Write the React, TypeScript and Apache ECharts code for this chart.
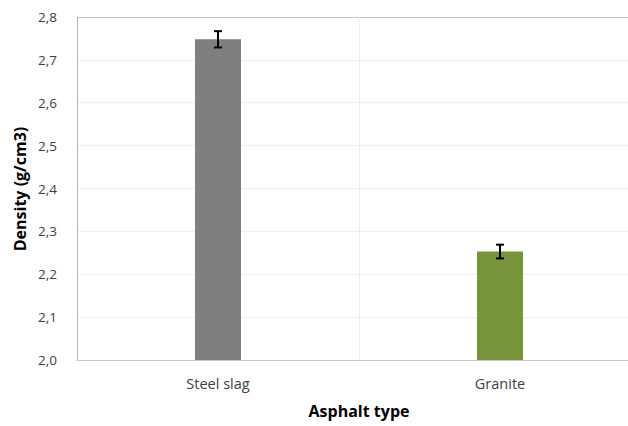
import React, { useEffect, useRef } from "react";
import * as echarts from "echarts";

const categories = ["Steel slag", "Granite"];
const densities = [2.748, 2.253];
const errors = [0.019, 0.016];
const barColors = ["#7f7f7f", "#77933c"];
const yTicks = [2.0, 2.1, 2.2, 2.3, 2.4, 2.5, 2.6, 2.7, 2.8];

const FONT = "'Open Sans', 'Noto Sans', sans-serif";

export default function App() {
  const ref = useRef<HTMLDivElement>(null);
  useEffect(() => {
    if (!ref.current) return;
    const chart = echarts.init(ref.current, undefined, { renderer: "svg" });
    const gridColors = yTicks.map((_, i) => (i === yTicks.length - 1 ? "#c4c4c4" : "#efefef"));
    chart.setOption({
      animation: false,
      backgroundColor: "#ffffff",
      grid: { left: 77, right: 19, top: 17, bottom: 66, containLabel: false },
      xAxis: {
        type: "category",
        data: categories,
        axisLine: { show: true, lineStyle: { color: "#c8c8c8", width: 1 } },
        axisTick: { show: false },
        splitLine: { show: true, lineStyle: { color: "#eeeeee", width: 1 } },
        axisLabel: { color: "#404040", fontSize: 14.5, fontFamily: FONT, margin: 16 },
      },
      yAxis: {
        type: "value",
        min: 2.0,
        max: 2.8,
        interval: 0.1,
        axisLine: { show: true, lineStyle: { color: "#b4b4b4", width: 1 } },
        axisTick: { show: false },
        splitLine: { show: true, lineStyle: { color: gridColors, width: 1 } },
        axisLabel: {
          color: "#404040",
          fontSize: 13.5,
          fontFamily: FONT,
          margin: 20,
          formatter: (v: number) => v.toFixed(1).replace(".", ","),
        },
      },
      graphic: [
        {
          type: "text",
          x: 359,
          y: 411,
          style: {
            text: "Asphalt type",
            fontSize: 16,
            fontWeight: "bold",
            fontFamily: FONT,
            fill: "#000000",
            align: "center",
            verticalAlign: "middle",
          },
        },
        {
          type: "text",
          x: 20,
          y: 189,
          rotation: Math.PI / 2,
          style: {
            text: "Density (g/cm3)",
            fontSize: 16,
            fontWeight: "bold",
            fontFamily: FONT,
            fill: "#000000",
            align: "center",
            verticalAlign: "middle",
          },
        },
      ],
      series: [
        {
          type: "bar",
          barWidth: 46,
          data: densities.map((v, i) => ({ value: v, itemStyle: { color: barColors[i] } })),
        },
        {
          type: "custom",
          data: densities.map((v, i) => [i, v - errors[i], v + errors[i]]),
          renderItem: (params: any, api: any) => {
            const idx = api.value(0);
            const lo = api.coord([idx, api.value(1)]);
            const hi = api.coord([idx, api.value(2)]);
            const x = lo[0];
            const hw = 4;
            const style = { stroke: "#000000", lineWidth: 2 };
            return {
              type: "group",
              children: [
                { type: "line", shape: { x1: x, y1: hi[1], x2: x, y2: lo[1] }, style },
                { type: "line", shape: { x1: x - hw, y1: hi[1], x2: x + hw, y2: hi[1] }, style },
                { type: "line", shape: { x1: x - hw, y1: lo[1], x2: x + hw, y2: lo[1] }, style },
              ],
            };
          },
          z: 10,
        },
      ],
    });
    return () => chart.dispose();
  }, []);
  return (
    <div style={{ width: 628, height: 426, position: "absolute", left: 0, top: 0, overflow: "hidden" }}>
      <div ref={ref} style={{ width: 660, height: 426, position: "absolute", left: 0, top: 0 }} />
    </div>
  );
}
